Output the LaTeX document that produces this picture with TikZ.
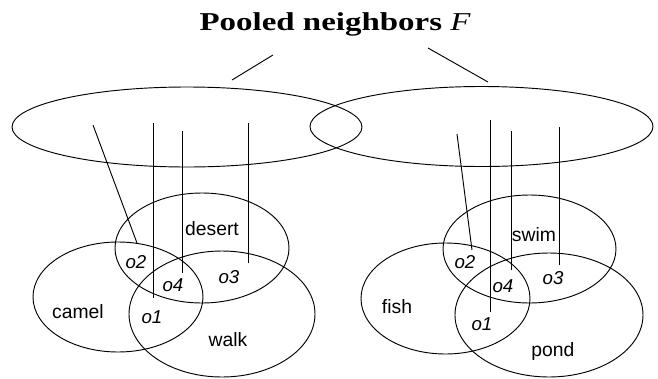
\documentclass[tikz,border=0pt]{standalone}
\usepackage{fontspec}
\setmainfont{Liberation Serif}
\newfontfamily\arialfont{Liberation Sans}
\usepackage{tikz}
\usetikzlibrary{positioning}

\tikzset{
  setlbl/.style={font=\arialfont\fontsize{14.5}{14.5}\selectfont, inner sep=0pt},
  objlbl/.style={font=\arialfont\itshape\fontsize{14}{14}\selectfont, inner sep=0pt},
  thinline/.style={line width=0.7pt}
}

\begin{document}
\begin{tikzpicture}[x=0.75pt,y=0.75pt,yscale=-1,xscale=1]
\useasboundingbox (0,0) rectangle (658,379);

% Title
\draw (335,30) node [anchor=base] (title) {\scalebox{1.28}[1]{\fontsize{19.3}{19.3}\selectfont\bfseries Pooled neighbors {\mdseries\itshape F}}};
%Straight Lines
\coordinate (tl1) at (273,55); \coordinate (tl2) at (232,80);
\coordinate (tr1) at (428,48); \coordinate (tr2) at (488,82);
\draw [thinline] (tl1) -- (tl2) ;
\draw [thinline] (tr1) -- (tr2) ;

%Shape: Ellipse (pooled, left)
\draw [thinline] (187,127) ellipse (175 and 40) ;
%Shape: Ellipse (pooled, right)
\draw [thinline] (481.5,126.5) ellipse (171.5 and 40) ;

%Shape: Ellipse (desert, camel, walk)
\draw [thinline] (202,248) ellipse (87 and 55) ;
\draw [thinline] (118,297) ellipse (85 and 55) ;
\draw [thinline] (222,314) ellipse (93 and 63) ;
%Shape: Ellipse (swim, fish, pond)
\draw [thinline] (529.5,249) ellipse (86.5 and 54) ;
\draw [thinline] (445.5,298.5) ellipse (84.5 and 55.5) ;
\draw [thinline] (549,315) ellipse (94 and 62) ;

%Straight Lines (left)
\coordinate (la1) at (93,125);  \coordinate (la2) at (137,243);
\coordinate (lb1) at (153,123); \coordinate (lb2) at (153,298);
\coordinate (lc1) at (182,131); \coordinate (lc2) at (182,273);
\coordinate (ld1) at (248,123); \coordinate (ld2) at (248,263);
\foreach \l in {la,lb,lc,ld} {\draw [thinline] (\l1) -- (\l2) ;}
%Straight Lines (right)
\coordinate (ra1) at (457,134); \coordinate (ra2) at (472,250);
\coordinate (rb1) at (490,120); \coordinate (rb2) at (490,312);
\coordinate (rc1) at (511,131); \coordinate (rc2) at (511,270);
\coordinate (rd1) at (559,127); \coordinate (rd2) at (559,265);
\foreach \l in {ra,rb,rc,rd} {\draw [thinline] (\l1) -- (\l2) ;}

% Text Node
\draw (212,229) node [setlbl] (desert) {desert};
\draw (78,312) node [setlbl] (camel) {camel};
\draw (228,340) node [setlbl] (walk) {walk};
\draw (136,262) node [objlbl] (lo2) {o2};
\draw (173,285) node [objlbl] (lo4) {o4};
\draw (229,277) node [objlbl] (lo3) {o3};
\draw (152,317) node [objlbl] (lo1) {o1};

\draw (534,235) node [setlbl] (swim) {swim};
\draw (397,307) node [setlbl] (fish) {fish};
\draw (553,351) node [setlbl] (pond) {pond};
\draw (465,262) node [objlbl] (ro2) {o2};
\draw (503,286) node [objlbl] (ro4) {o4};
\draw (553,278) node [objlbl] (ro3) {o3};
\draw (482,324) node [objlbl] (ro1) {o1};
\end{tikzpicture}
\end{document}
